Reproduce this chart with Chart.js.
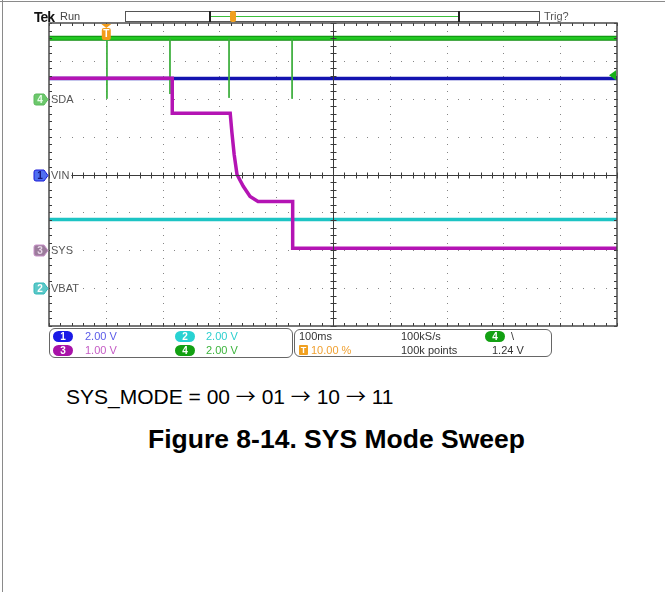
<!DOCTYPE html>
<html><head><meta charset="utf-8">
<script src="https://cdn.jsdelivr.net/npm/chart.js@4.4.1/dist/chart.umd.min.js"></script>
<style>
html,body{margin:0;padding:0;background:#fff;}
#page{position:relative;width:665px;height:592px;overflow:hidden;background:#fff;font-family:"Liberation Sans",Arial,sans-serif;}
.abs{position:absolute;white-space:nowrap;}
#frameL{position:absolute;left:2px;top:0;width:1px;height:592px;background:#8a8a8a;}
#frameT{position:absolute;left:0;top:1px;width:665px;height:1px;background:#8a8a8a;}
#cv{position:absolute;left:0;top:0;}
.box{position:absolute;border:1px solid #666;border-radius:6px;box-sizing:border-box;}
.pill{position:absolute;width:20px;height:11px;border-radius:6px;color:#fff;font-size:10px;font-weight:bold;line-height:11px;text-align:center;}
.t11{position:absolute;font-size:11px;line-height:14px;white-space:nowrap;}
.arr{font-family:"Noto Sans CJK SC","DejaVu Sans",sans-serif;font-size:20px;}
</style></head>
<body><div id="page">
<div id="frameL"></div><div id="frameT"></div>
<canvas id="cv" width="665" height="370"></canvas>

<!-- top status bar -->
<div class="abs" style="left:34px;top:9px;font-size:14px;font-weight:bold;letter-spacing:-1px;color:#111;">Tek</div>
<div class="abs" style="left:60px;top:10px;font-size:11px;color:#444;">Run</div>
<div class="abs" style="left:125px;top:11px;width:415px;height:11px;border:1px solid #555;box-sizing:border-box;"></div>
<div class="abs" style="left:209px;top:11px;width:251px;height:11px;border-left:2px solid #222;border-right:2px solid #222;box-sizing:border-box;"></div>
<div class="abs" style="left:211px;top:16px;width:247px;height:1px;background:#3cbf3c;"></div>
<div class="abs" style="left:230px;top:11px;width:6px;height:11px;border-radius:2px;background:#f0a020;"></div>
<div class="abs" style="left:544px;top:10px;font-size:11px;color:#555;">Trig?</div>

<!-- info boxes -->
<div class="box" style="left:49px;top:328px;width:244px;height:30px;"></div>
<div class="box" style="left:294px;top:329px;width:258px;height:28px;"></div>

<div class="pill" style="left:53px;top:331px;background:#1a1ae6;">1</div>
<div class="t11" style="left:85px;top:329px;color:#5a5ae8;">2.00 V</div>
<div class="pill" style="left:175px;top:331px;background:#28d2d2;">2</div>
<div class="t11" style="left:206px;top:329px;color:#2ccfcf;">2.00 V</div>
<div class="pill" style="left:53px;top:345px;background:#a812a8;">3</div>
<div class="t11" style="left:85px;top:343px;color:#c45ac4;">1.00 V</div>
<div class="pill" style="left:175px;top:345px;background:#12a012;">4</div>
<div class="t11" style="left:206px;top:343px;color:#3cb43c;">2.00 V</div>

<div class="t11" style="left:299px;top:329px;color:#333;">100ms</div>
<div class="abs" style="left:299px;top:345px;width:9px;height:10px;background:#f0a020;border-radius:1px;color:#fff;font-size:9px;font-weight:bold;line-height:10px;text-align:center;">T</div>
<div class="t11" style="left:311px;top:343px;color:#f0a030;">10.00 %</div>
<div class="t11" style="left:401px;top:329px;color:#333;">100kS/s</div>
<div class="t11" style="left:401px;top:343px;color:#333;">100k points</div>
<div class="pill" style="left:485px;top:331px;background:#12a012;">4</div>
<div class="t11" style="left:511px;top:329px;color:#333;">\</div>
<div class="t11" style="left:492px;top:343px;color:#333;">1.24 V</div>

<!-- captions -->
<div class="abs" style="left:66px;top:383px;font-size:21px;line-height:26px;color:#000;">SYS_MODE = 00 <span class="arr">→</span> 01 <span class="arr">→</span> 10 <span class="arr">→</span> 11</div>
<div class="abs" style="left:0;width:673px;text-align:center;top:424px;font-size:26.5px;font-weight:bold;color:#000;">Figure 8-14. SYS Mode Sweep</div>
</div>

<script>
// ---- data (read from the scope capture) ----
const timeMin = -100, timeMax = 900;          // ms, 100 ms/div, trigger at 10 %
const divMin = -4, divMax = 4;                // vertical divisions
const chNames      = ['VIN', 'VBAT', 'SYS', 'SDA'];
const chVoltsPerDiv = [2, 2, 1, 2];
const chGroundDiv   = [0, -3, -2, 2];

const vinTime  = [-100, 900];
const vinVolts = [5.07, 5.07];
const vbatTime  = [-100, 900];
const vbatVolts = [3.62, 3.62];
const sysTime  = [-100, 117, 117, 219, 222, 226, 231, 242, 254, 268, 329, 329, 900];
const sysVolts = [4.54, 4.54, 3.62, 3.62, 3.11, 2.53, 2.00, 1.69, 1.42, 1.29, 1.29, 0.05, 0.05];
const sdaTime  = [-100, 900];
const sdaVolts = [3.19, 3.19];
const sdaPulseTime = [2, 113, 217, 328];
const sdaPulseLow  = [0, 0.25, 0.05, 0];
const trigTime = 0, trigLevel = 1.24;

// ---- helpers ----
const pts = (t, v) => t.map((x, i) => ({x, y: v[i]}));
const pulsePts = [];
sdaPulseTime.forEach((t, i) => {
  pulsePts.push({x: t, y: sdaVolts[0]}, {x: t, y: sdaPulseLow[i]}, {x: t, y: null});
});
const chScale = i => ({type: 'linear', display: false,
  min: (divMin - chGroundDiv[i]) * chVoltsPerDiv[i],
  max: (divMax - chGroundDiv[i]) * chVoltsPerDiv[i]});

const graticule = {
  id: 'graticule',
  beforeDatasetsDraw(chart) {
    const {ctx, chartArea: a} = chart;
    const xs = chart.scales.x, ys = chart.scales.y;
    ctx.save();
    ctx.fillStyle = '#858585';
    for (let i = 1; i < 10; i++) {
      if (i === 5) continue;
      const px = Math.round(xs.getPixelForValue(timeMin + i * 100));
      for (let j = 0; j <= 40; j++) {
        const py = Math.round(ys.getPixelForValue(divMin + j * 0.2));
        ctx.fillRect(px, py, 1, 1);
      }
    }
    for (let k = -3; k <= 3; k++) {
      if (k === 0) continue;
      const py = Math.round(ys.getPixelForValue(k));
      for (let j = 0; j <= 50; j++) {
        const px = Math.round(xs.getPixelForValue(timeMin + j * 20));
        ctx.fillRect(px, py, 1, 1);
      }
    }
    ctx.restore();
  },
  afterDatasetsDraw(chart) {
    const {ctx, chartArea: a} = chart;
    const xs = chart.scales.x, ys = chart.scales.y;
    ctx.save();
    // center cross
    const cx = Math.round(xs.getPixelForValue((timeMin + timeMax) / 2)) + 0.5;
    const cy = Math.round(ys.getPixelForValue(0)) + 0.5;
    ctx.strokeStyle = '#3a3a3a'; ctx.lineWidth = 1;
    ctx.beginPath();
    ctx.moveTo(a.left, cy); ctx.lineTo(a.right, cy);
    ctx.moveTo(cx, a.top); ctx.lineTo(cx, a.bottom);
    for (let j = 0; j <= 50; j++) {
      const px = Math.round(xs.getPixelForValue(timeMin + j * 20)) + 0.5;
      ctx.moveTo(px, cy - 3); ctx.lineTo(px, cy + 3);
      ctx.moveTo(px, a.top); ctx.lineTo(px, a.top + 3);
      ctx.moveTo(px, a.bottom); ctx.lineTo(px, a.bottom - 3);
    }
    for (let j = 0; j <= 40; j++) {
      const py = Math.round(ys.getPixelForValue(divMin + j * 0.2)) + 0.5;
      ctx.moveTo(cx - 3, py); ctx.lineTo(cx + 3, py);
      ctx.moveTo(a.left, py); ctx.lineTo(a.left + 3, py);
      ctx.moveTo(a.right, py); ctx.lineTo(a.right - 3, py);
    }
    ctx.stroke();
    // border
    ctx.strokeStyle = '#4a4a4a'; ctx.lineWidth = 1.5;
    ctx.strokeRect(a.left, a.top, a.right - a.left, a.bottom - a.top);

    // channel ground tags + names
    const tagFill   = ['#4f6ff0', '#5cc8c8', '#9c7c9c', '#6cc86c'];
    const tagStroke = ['#1a1ad8', '#30b8b8', '#c890c8', '#5ab85a'];
    const tagText   = ['#14147a', '#ffffff', '#e8d8e8', '#eaffea'];
    const order = [3, 0, 2, 1];
    ctx.textBaseline = 'middle';
    order.forEach(i => {
      const y = Math.round(chart.scales['y' + (i + 1)].getPixelForValue(0)) + 0.5;
      const x0 = a.left - 15, x1 = a.left - 5, x2 = a.left - 1;
      ctx.beginPath();
      ctx.moveTo(x0 + 2, y - 5.5); ctx.lineTo(x1, y - 5.5); ctx.lineTo(x2, y);
      ctx.lineTo(x1, y + 5.5); ctx.lineTo(x0 + 2, y + 5.5);
      ctx.quadraticCurveTo(x0, y + 5.5, x0, y + 3.5); ctx.lineTo(x0, y - 3.5);
      ctx.quadraticCurveTo(x0, y - 5.5, x0 + 2, y - 5.5); ctx.closePath();
      ctx.fillStyle = tagFill[i]; ctx.fill();
      ctx.strokeStyle = tagStroke[i]; ctx.lineWidth = 1; ctx.stroke();
      ctx.fillStyle = tagText[i]; ctx.textAlign = 'center';
      ctx.font = 'bold 10px "Liberation Sans", Arial, sans-serif';
      ctx.fillText(String(i + 1), x0 + 6, y + 0.5);
      ctx.font = '11px "Liberation Sans", Arial, sans-serif';
      const w = ctx.measureText(chNames[i]).width;
      ctx.fillStyle = '#fff'; ctx.fillRect(a.left + 1, y - 6, w + 3, 12);
      ctx.fillStyle = '#555'; ctx.textAlign = 'left';
      ctx.fillText(chNames[i], a.left + 2, y + 0.5);
    });

    // trigger position marker (top)
    const tx = xs.getPixelForValue(trigTime) + 0.5;
    ctx.fillStyle = '#f39c1a';
    ctx.beginPath();
    ctx.moveTo(tx - 5, a.top + 1); ctx.lineTo(tx + 5, a.top + 1); ctx.lineTo(tx, a.top + 5); ctx.closePath(); ctx.fill();
    ctx.beginPath();
    if (ctx.roundRect) ctx.roundRect(tx - 4.5, a.top + 5, 9, 12, 2); else ctx.rect(tx - 4.5, a.top + 5, 9, 12);
    ctx.fill();
    ctx.fillStyle = '#fff'; ctx.textAlign = 'center';
    ctx.font = 'bold 10px "Liberation Sans", Arial, sans-serif';
    ctx.fillText('T', tx, a.top + 11.5);

    // trigger level marker (right, channel 4)
    const ly = chart.scales.y4.getPixelForValue(trigLevel);
    ctx.fillStyle = '#18b018';
    ctx.beginPath();
    ctx.moveTo(a.right - 8, ly); ctx.lineTo(a.right - 1, ly - 5); ctx.lineTo(a.right - 1, ly + 5); ctx.closePath(); ctx.fill();
    ctx.restore();
  }
};

new Chart(document.getElementById('cv'), {
  type: 'line',
  data: {
    datasets: [
      {data: pts(sysTime, sysVolts), yAxisID: 'y3', borderColor: '#b414b4', borderWidth: 3.5, order: 0},
      {data: pulsePts, yAxisID: 'y4', borderColor: '#3cae3c', borderWidth: 1, spanGaps: false, order: 1},
      {data: pts(sdaTime, sdaVolts), yAxisID: 'y4', borderColor: '#22c822', borderWidth: 3, order: 2},
      {data: pts(sdaTime, sdaVolts), yAxisID: 'y4', borderColor: '#0e8c0e', borderWidth: 5, order: 3},
      {data: pts(vinTime, vinVolts), yAxisID: 'y1', borderColor: '#1414b0', borderWidth: 3.5, order: 4},
      {data: pts(vbatTime, vbatVolts), yAxisID: 'y2', borderColor: '#1cc4c4', borderWidth: 3.5, order: 5}
    ]
  },
  options: {
    responsive: false, animation: false, devicePixelRatio: 1,
    layout: {padding: {left: 49, top: 23, right: 48, bottom: 44}},
    elements: {point: {radius: 0}, line: {tension: 0, fill: false}},
    plugins: {legend: {display: false}, tooltip: {enabled: false}},
    scales: {
      x: {type: 'linear', display: false, min: timeMin, max: timeMax},
      y: {type: 'linear', display: false, min: divMin, max: divMax},
      y1: chScale(0), y2: chScale(1), y3: chScale(2), y4: chScale(3)
    }
  },
  plugins: [graticule]
});
</script>
</body></html>
